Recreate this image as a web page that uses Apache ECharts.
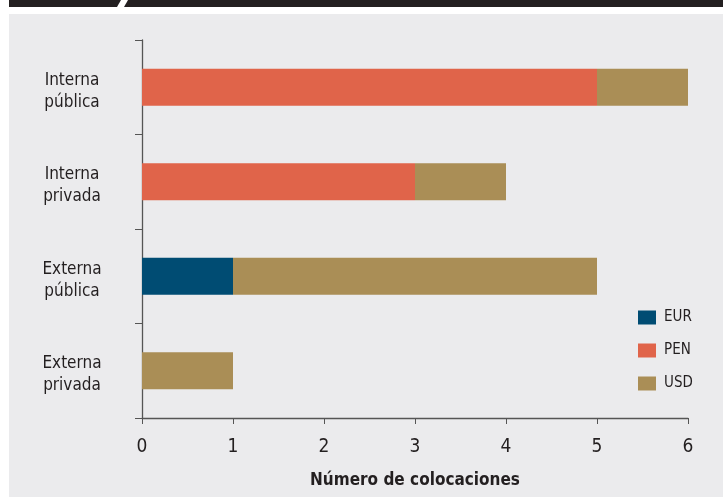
<!DOCTYPE html>
<html>
<head>
<meta charset="utf-8">
<script src="https://cdn.jsdelivr.net/npm/echarts@6/dist/echarts.min.js"></script>
<style>
html,body{margin:0;padding:0;background:#fff;}
#c{width:723px;height:497px;}
</style>
</head>
<body>
<div id="c"></div>
<script>
const categories = ['Interna\npública', 'Interna\nprivada', 'Externa\npública', 'Externa\nprivada'];
const seriesNames = ['EUR', 'PEN', 'USD'];
const eurValues = [0, 0, 1, 0];
const penValues = [5, 3, 0, 0];
const usdValues = [1, 1, 4, 1];
const xTicks = [0, 1, 2, 3, 4, 5, 6];
const colors = ['#004c73', '#e0644a', '#aa8e56'];

const FONT = '"Liberation Sans Narrow", "DejaVu Sans Condensed", "Roboto", sans-serif';
const chart = echarts.init(document.getElementById('c'), null, {renderer: 'canvas'});

const mk = (name, data, color) => ({
  name, type: 'bar', stack: 'total', data, barWidth: 37,
  itemStyle: {color}, emphasis: {disabled: true}
});

chart.setOption({
  animation: false,
  textStyle: {fontFamily: FONT},
  graphic: [
    {type: 'rect', z: -10, shape: {x: 9, y: 14, width: 714, height: 483}, style: {fill: '#ebebed'}},
    {type: 'polygon', z: -10, shape: {points: [[9,0],[121,0],[117,7],[9,7]]}, style: {fill: '#231f20'}},
    {type: 'polygon', z: -10, shape: {points: [[128,0],[723,0],[723,7],[124,7]]}, style: {fill: '#231f20'}}
  ],
  grid: {left: 142, right: 35, top: 40, bottom: 79, containLabel: false},
  legend: {
    orient: 'vertical', left: 633, top: 305,
    itemWidth: 18, itemHeight: 14, itemGap: 18,
    icon: 'rect',
    data: seriesNames,
    textStyle: {fontFamily: FONT, fontSize: 15, color: '#231f20', padding: [0, 0, 0, 3]}
  },
  xAxis: {
    type: 'value', min: xTicks[0], max: xTicks[xTicks.length - 1], interval: 1,
    name: 'Número de colocaciones', nameLocation: 'middle', nameGap: 54,
    nameTextStyle: {fontFamily: FONT, fontSize: 17, fontWeight: 'bold', color: '#231f20'},
    axisLine: {show: true, lineStyle: {color: '#555', width: 1.3}},
    axisTick: {show: true, length: 6, lineStyle: {color: '#555'}},
    axisLabel: {fontFamily: FONT, fontSize: 19, color: '#231f20', margin: 20},
    splitLine: {show: false}
  },
  yAxis: {
    type: 'category', data: categories, inverse: true,
    axisLine: {show: true, lineStyle: {color: '#555', width: 1.3}},
    axisTick: {show: true, length: 7, lineStyle: {color: '#555'}},
    axisLabel: {
      fontFamily: FONT, fontSize: 17, color: '#231f20', margin: 70, align: 'center',
      formatter: v => '{s| }\n' + v.split('\n').map(t => '{a|' + t + '}').join('\n'),
      rich: {
        s: {fontSize: 4, lineHeight: 8, align: 'center'},
        a: {fontFamily: FONT, fontSize: 17, lineHeight: 22, color: '#231f20', align: 'center'}
      }
    }
  },
  series: [
    mk(seriesNames[0], eurValues, colors[0]),
    mk(seriesNames[1], penValues, colors[1]),
    mk(seriesNames[2], usdValues, colors[2])
  ]
});
</script>
</body>
</html>
